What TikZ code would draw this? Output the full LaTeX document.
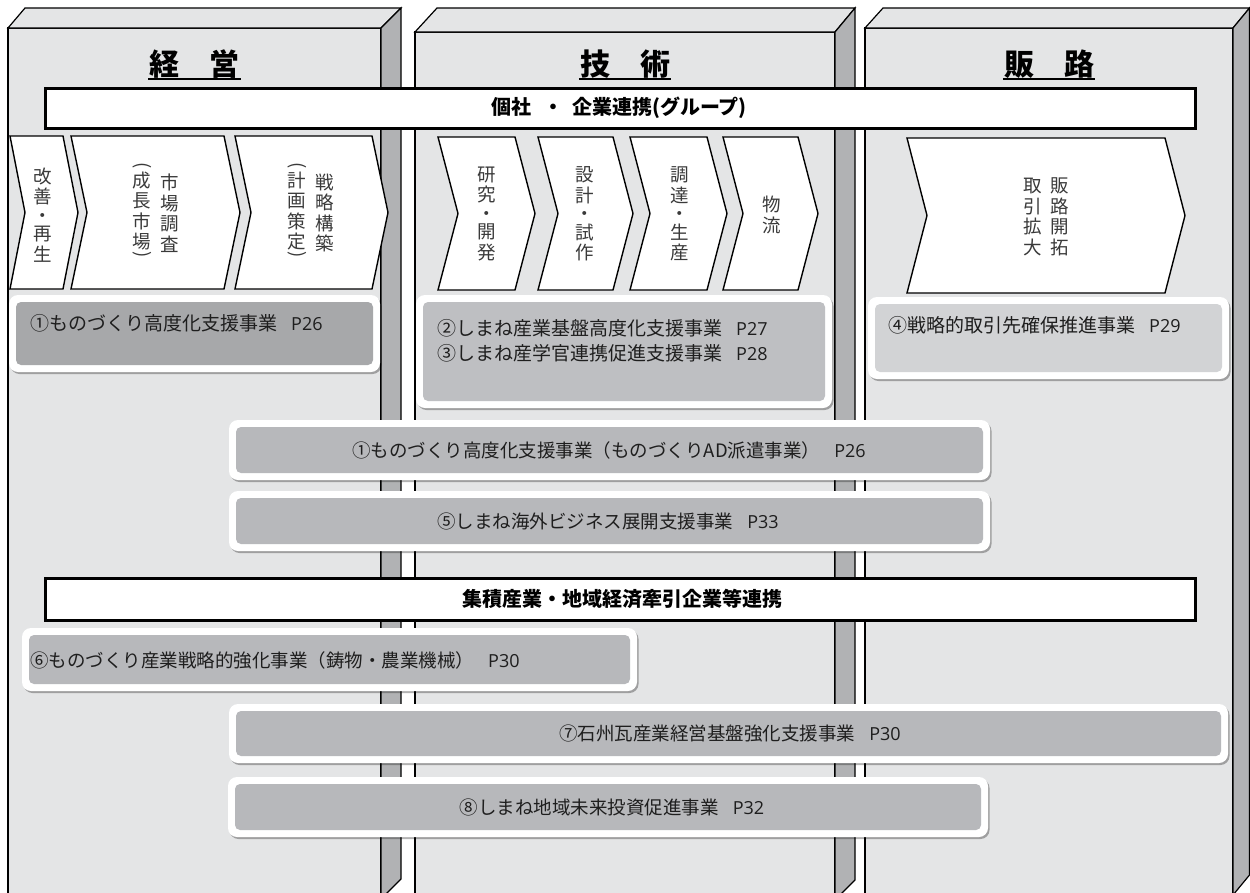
\documentclass[tikz,border=0pt]{standalone}
\usepackage{fontspec}
\setmainfont{Noto Sans CJK JP}
\newfontfamily\lat{Open Sans}
\usetikzlibrary{shadows}
\definecolor{face}{HTML}{E4E5E6}
\definecolor{sidec}{HTML}{B1B2B4}
\definecolor{gA}{HTML}{A7A8AA}
\definecolor{gB}{HTML}{BEBFC2}
\definecolor{gC}{HTML}{D2D3D5}
\definecolor{gD}{HTML}{B7B8BB}
\definecolor{chtxt}{HTML}{3A3A3A}
\definecolor{bxtxt}{HTML}{1E1E1E}
\newcommand\pg[1]{\hspace{14pt}{\lat\fontsize{18}{20}\selectfont #1}}
\newcommand\chevshape[5]{\draw[chev] (#1,#4) -- (#2,#4) -- ({#2+#3},{(#4+#5)/2}) -- (#2,#5) -- (#1,#5) -- ({#1+#3},{(#4+#5)/2}) -- cycle;}
\newcommand\progbox[5]{%
  \fill[framestyle] (#1,#2) rectangle (#3,#4);
  \fill[#5, rounded corners=5pt] ({#1+7},{#2+7}) rectangle ({#3-7},{#4-7});}
\begin{document}
\begin{tikzpicture}[x=1pt,y=-1pt,
  colface/.style={fill=face,draw=black,line width=1.2pt,line join=miter},
  colside/.style={fill=sidec,draw=black,line width=1.2pt,line join=miter},
  chev/.style={fill=white,draw=black,line width=1.4pt,line join=miter},
  banner/.style={fill=white,draw=black,line width=3pt},
  framestyle/.style={fill=white,rounded corners=9pt,drop shadow={shadow xshift=1.5pt,shadow yshift=-2pt,opacity=0.3,fill=black}},
  hdr/.style={font=\fontsize{30}{32}\selectfont\bfseries,inner xsep=1pt,inner ysep=0pt},
  bantxt/.style={font=\fontsize{20}{22}\selectfont\bfseries,inner sep=0pt},
  vt/.style={align=center,text=chtxt,inner sep=0pt,font=\fontsize{18.5}{20.5}\selectfont},
  par/.style={text=chtxt,inner sep=0pt,font=\fontsize{18.5}{20.5}\selectfont,rotate=-90},
  bt/.style={text=bxtxt,inner sep=0pt,font=\fontsize{19}{25}\selectfont},
  bw/.style={text=bxtxt,inner sep=0pt,font=\fontsize{18.5}{22}\selectfont}
]
\useasboundingbox (0,0) rectangle (1250,892);
\clip (0,0) rectangle (1250,892);
\fill[white] (0,0) rectangle (1250,892);
% ---- columns ----
\draw[colface] (8,28) -- (381,28) -- (381,905) -- (8,905) -- cycle;
\draw[colface] (8,28) -- (25,8) -- (401,8) -- (381,28) -- cycle;
\draw[colside] (381,28) -- (401,8) -- (401,879) -- (381,899) -- cycle;
\draw[colface] (415,32) -- (835,32) -- (835,905) -- (415,905) -- cycle;
\draw[colface] (415,32) -- (437,8) -- (855,8) -- (835,32) -- cycle;
\draw[colside] (835,32) -- (855,8) -- (855,880) -- (835,900) -- cycle;
\draw[colface] (865,28) -- (1233,28) -- (1233,905) -- (865,905) -- cycle;
\draw[colface] (865,28) -- (883,8) -- (1249.5,8) -- (1233,28) -- cycle;
\draw[colside] (1233,28) -- (1249.5,8) -- (1249.5,875) -- (1233,895) -- cycle;
% ---- headers ----
\coordinate (ul) at (0,79);
\node[hdr] (h1) at (194.5,64) {経　営};
\node[hdr] (h2) at (625,64) {技　術};
\node[hdr] (h3) at (1049,64) {販　路};
\foreach \h in {h1,h2,h3} \draw[line width=1.3pt] (\h.west |- ul) -- (\h.east |- ul);
% ---- banners ----
\draw[banner] (45,88) rectangle (1195,128);
\node[bantxt] (b1) at (619,108) {個社\hspace{12pt}・\hspace{9pt}企業連携(グループ)};
% ---- chevrons ----
\chevshape{10}{63}{15}{136}{289}
\chevshape{71}{224}{16}{136}{289}
\chevshape{235}{372}{16}{136}{289}
\chevshape{438}{515}{20}{137}{290}
\chevshape{538}{613}{20}{137}{290}
\chevshape{630}{707}{20}{137}{290}
\chevshape{723}{798}{20}{137}{290}
\chevshape{907}{1165}{20}{138}{293}
\node[vt] (v1) at (43,215) {改\\善\\[-2pt]・\\[-2pt]再\\生};
\node[vt] (v2a) at (170,213) {市\\場\\調\\査};
\node[vt] (v2b) at (142,211) {成\\長\\市\\場};
\node[par] (p2a) at (142,166) {(};
\node[par] (p2b) at (142,255) {)};
\node[vt] (v3a) at (325,213) {戦\\略\\構\\築};
\node[vt] (v3b) at (297,211) {計\\画\\策\\定};
\node[par] (p3a) at (297,166) {(};
\node[par] (p3b) at (297,255) {)};
\node[vt] (v4) at (487,214) {研\\究\\[-2pt]・\\[-2pt]開\\発};
\node[vt] (v5) at (585,214) {設\\計\\[-2pt]・\\[-2pt]試\\作};
\node[vt] (v6) at (680,214) {調\\達\\[-2pt]・\\[-2pt]生\\産};
\node[vt] (v7) at (772,215) {物\\流};
\node[vt] (v8a) at (1060,217) {販\\路\\開\\拓};
\node[vt] (v8b) at (1033,217) {取\\引\\拡\\大};
% ---- program boxes ----
\progbox{9}{295}{380}{372}{gA}
\progbox{416}{295}{832}{408}{gB}
\progbox{868}{297}{1229}{379}{gC}
\progbox{229}{420}{990}{480}{gD}
\progbox{229}{491}{990}{551}{gD}
\node[bt,anchor=west] (t1) at (30,323) {①ものづくり高度化支援事業\pg{P26}};
\node[bt,anchor=west,align=left] (t2) at (437,341) {②しまね産業基盤高度化支援事業\pg{P27}\\③しまね産学官連携促進支援事業\pg{P28}};
\node[bt,anchor=west] (t3) at (888,325) {④戦略的取引先確保推進事業\pg{P29}};
\node[bw] (t4) at (609,450) {①ものづくり高度化支援事業（ものづくりAD派遣事業）\pg{P26}};
\node[bw] (t5) at (608,521) {⑤しまね海外ビジネス展開支援事業\pg{P33}};
% ---- second banner ----
\draw[banner] (45,578) rectangle (1195,620);
\node[bantxt] (b2) at (622,599) {集積産業・地域経済牽引企業等連携};
\progbox{22}{628}{637}{691}{gD}
\progbox{229}{704}{1228}{763}{gD}
\progbox{228}{777}{988}{837}{gD}
\node[bw,anchor=west] (t6) at (30,660) {⑥ものづくり産業戦略的強化事業（鋳物・農業機械）\pg{P30}};
\node[bw] (t7) at (730,733) {⑦石州瓦産業経営基盤強化支援事業\pg{P30}};
\node[bw] (t8) at (612,807) {⑧しまね地域未来投資促進事業\pg{P32}};
\end{tikzpicture}
\end{document}
